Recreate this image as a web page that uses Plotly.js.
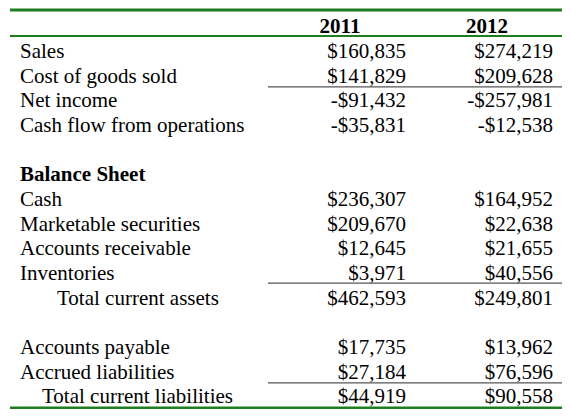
<!DOCTYPE html>
<html>
<head>
<meta charset="utf-8">
<script src="https://cdn.plot.ly/plotly-3.0.1.min.js"></script>
<style>
  html, body { margin: 0; padding: 0; background: #ffffff; }
  #chart { width: 571px; height: 416px; }
</style>
</head>
<body>
<div id="chart"></div>
<script>
// ---- data ----
var years = ["2011", "2012"];
var rowLabels = ["Sales", "Cost of goods sold", "Net income", "Cash flow from operations",
  "Balance Sheet", "Cash", "Marketable securities", "Accounts receivable", "Inventories",
  "Total current assets", "Accounts payable", "Accrued liabilities", "Total current liabilities"];
var values2011 = [160835, 141829, -91432, -35831, null, 236307, 209670, 12645, 3971, 462593, 17735, 27184, 44919];
var values2012 = [274219, 209628, -257981, -12538, null, 164952, 22638, 21655, 40556, 249801, 13962, 76596, 90558];

// ---- layout config (positions / styles) ----
var FONT = "'Liberation Serif', 'Times New Roman', serif";
var FS = 21;
var rowSlot = [1, 2, 3, 4, 6, 7, 8, 9, 10, 11, 13, 14, 15]; // row positions, blank rows at 5 and 12
var boldRows = {"Balance Sheet": true};
var indentOf = {"Total current assets": 57, "Total current liabilities": 42};
var labelX = 20, col1Right = 406, col2Right = 553, col1Center = 340, col2Center = 487;
var lineLeft = 10, lineRight = 562, subLeft = 268;

function fmt(v) {
  if (v === null) return "";
  var s = Math.abs(v).toString().replace(/\B(?=(\d{3})+(?!\d))/g, ",");
  return (v < 0 ? "-$" : "$") + s;
}

var traces = [];
// labels
rowLabels.forEach(function (lab, i) {
  traces.push({
    x: [indentOf[lab] || labelX], y: [rowSlot[i]],
    mode: "text", type: "scatter",
    text: [boldRows[lab] ? "<b>" + lab + "</b>" : lab],
    textposition: "middle right",
    textfont: {family: FONT, size: FS, color: "#000"},
    hoverinfo: "skip", showlegend: false, cliponaxis: false
  });
});
// header
traces.push({
  x: [col1Center, col2Center], y: [0, 0], mode: "text", type: "scatter",
  text: years.map(function (y) { return "<b>" + y + "</b>"; }),
  textposition: "middle center",
  textfont: {family: FONT, size: FS, color: "#000"},
  hoverinfo: "skip", showlegend: false, cliponaxis: false
});
// values
[[values2011, col1Right], [values2012, col2Right]].forEach(function (p) {
  traces.push({
    x: p[0].map(function () { return p[1]; }), y: rowSlot,
    mode: "text", type: "scatter",
    text: p[0].map(fmt),
    textposition: "middle left",
    textfont: {family: FONT, size: FS, color: "#000"},
    hoverinfo: "skip", showlegend: false, cliponaxis: false
  });
});

function hline(y, x0, color, w) {
  return {type: "line", xref: "x", yref: "y", x0: x0, x1: lineRight, y0: y, y1: y,
          line: {color: color, width: w}};
}
var GREEN = "#1e7d1e";
var shapes = [
  hline(-0.73, lineLeft, GREEN, 3),
  hline(0.32, lineLeft, GREEN, 2),
  hline(2.39, subLeft, "#555", 1.3),
  hline(10.34, subLeft, "#555", 1.3),
  hline(14.39, subLeft, "#555", 1.3),
  hline(15.40, lineLeft, GREEN, 2.5)
];

var layout = {
  width: 571, height: 416,
  margin: {l: 0, r: 0, t: 0, b: 0},
  paper_bgcolor: "#ffffff", plot_bgcolor: "#ffffff",
  xaxis: {range: [0, 571], visible: false, fixedrange: true},
  yaxis: {range: [15.73, -1.135], visible: false, fixedrange: true},
  shapes: shapes,
  showlegend: false
};
Plotly.newPlot("chart", traces, layout, {staticPlot: true, displayModeBar: false});
</script>
</body>
</html>
